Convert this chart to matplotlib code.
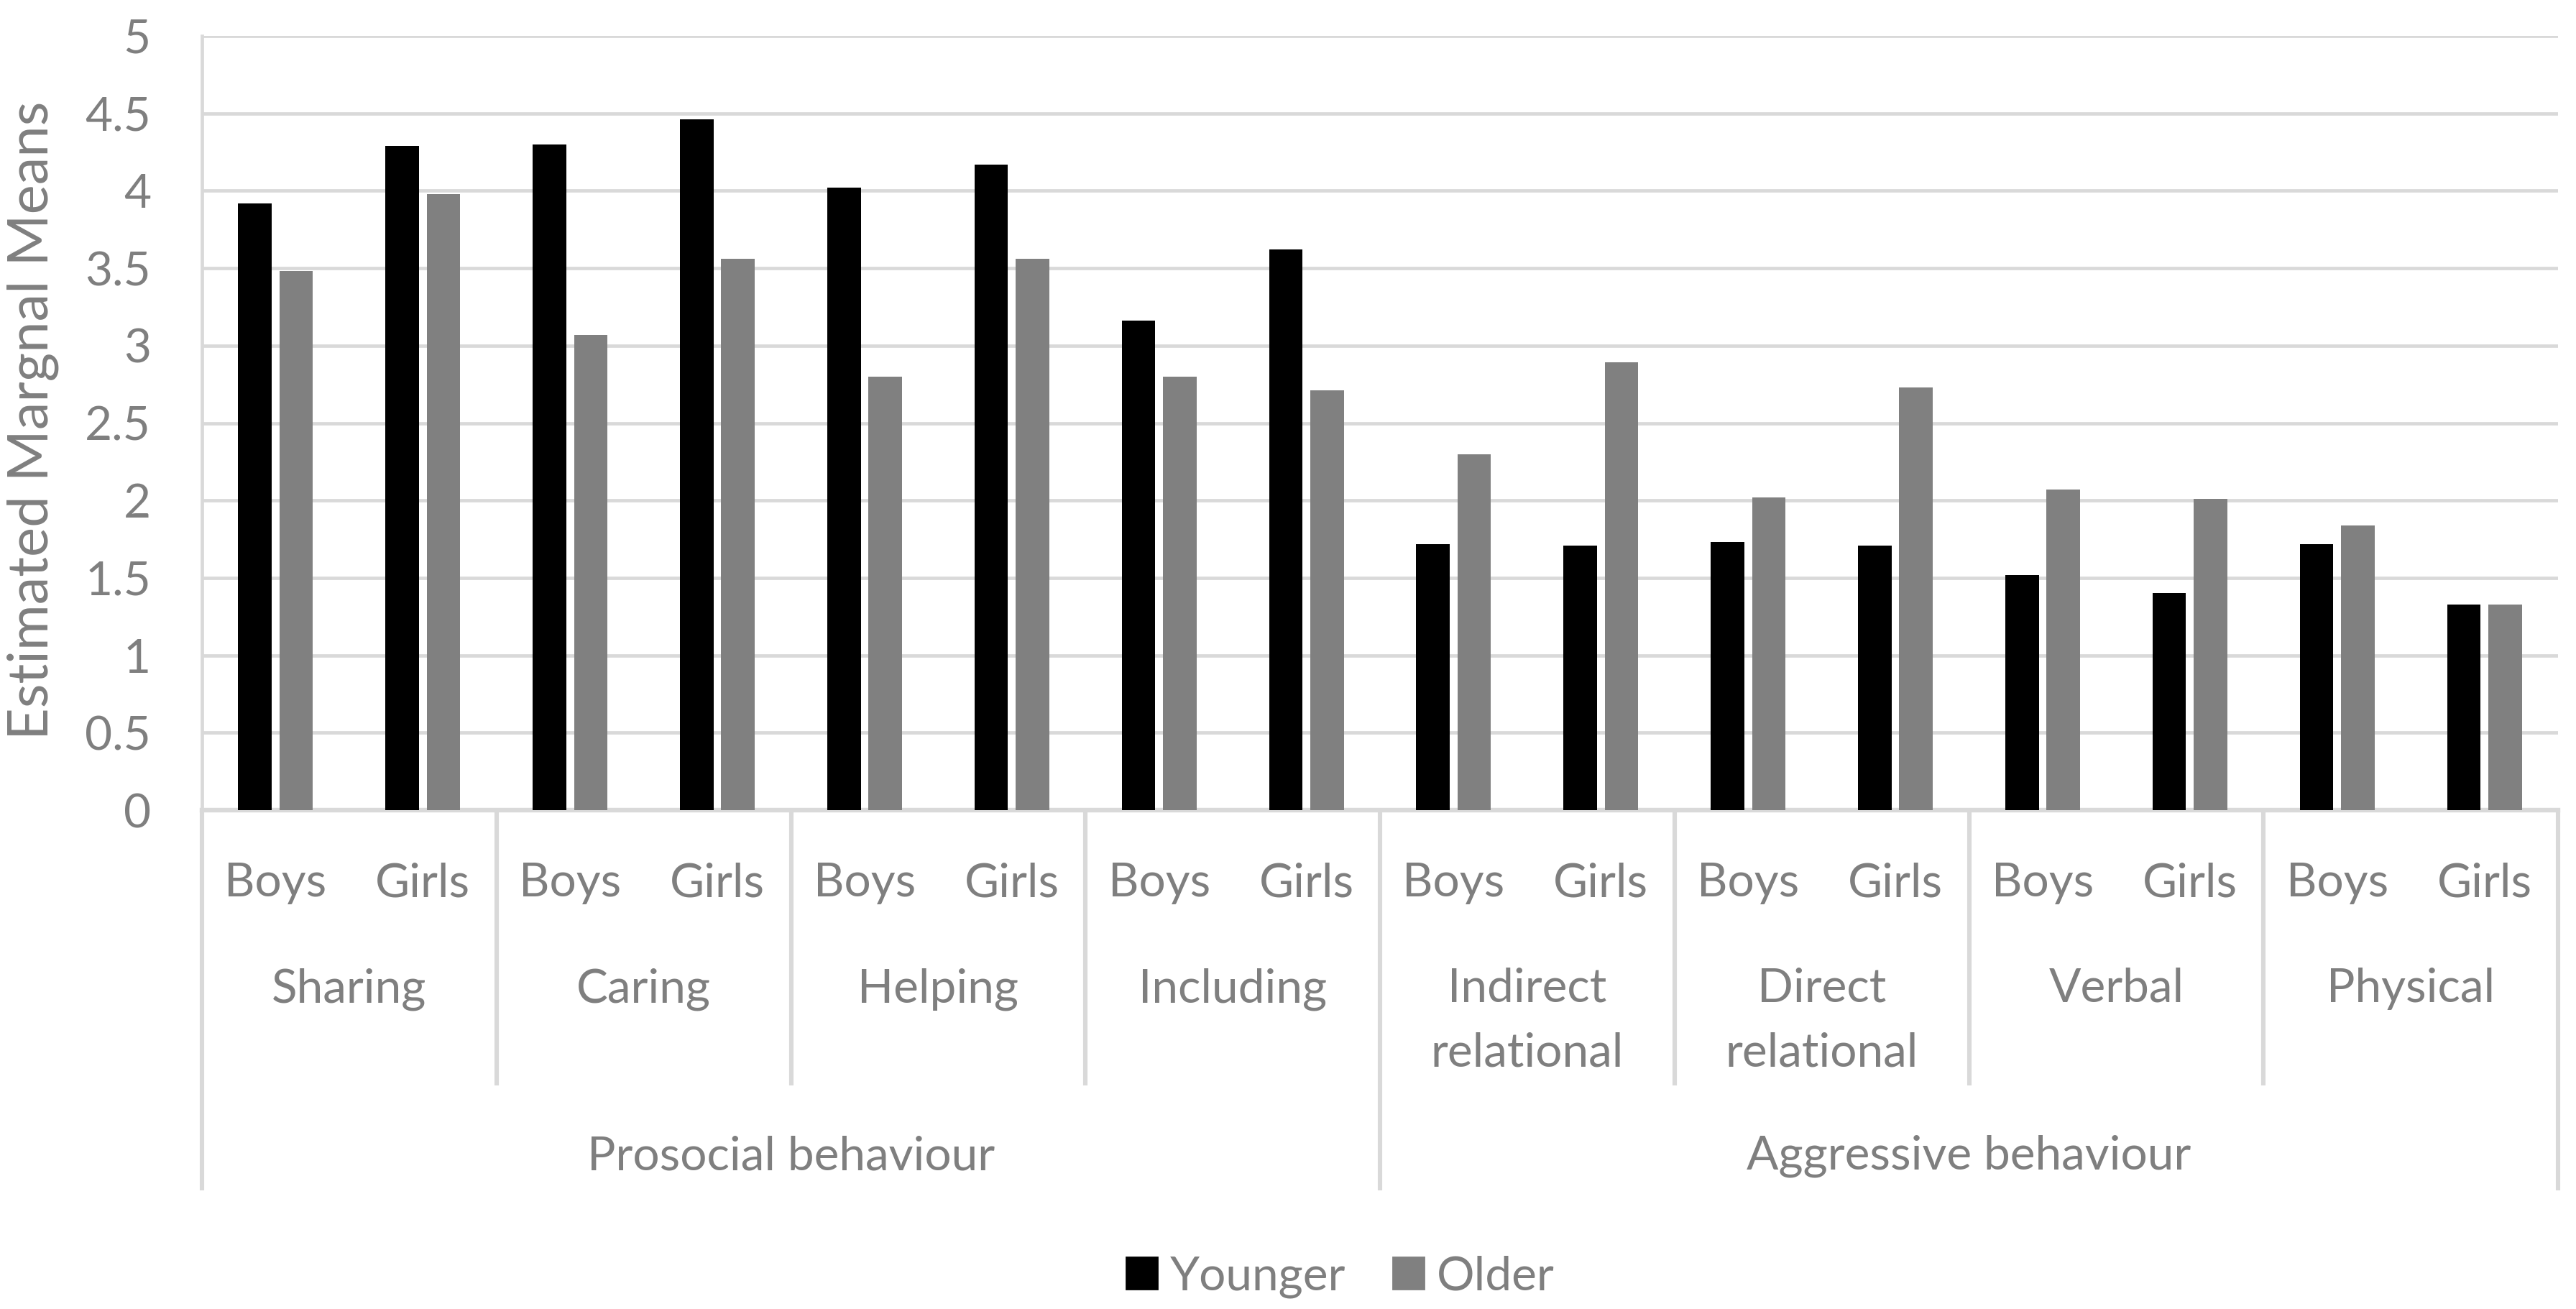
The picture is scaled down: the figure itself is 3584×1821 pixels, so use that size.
import numpy as np
import matplotlib
matplotlib.use("Agg")
import matplotlib.pyplot as plt
from matplotlib.transforms import blended_transform_factory
from matplotlib.patches import Patch

# chart data
groups = ["Prosocial behaviour", "Aggressive behaviour"]
categories = ["Sharing", "Caring", "Helping", "Including",
              "Indirect\nrelational", "Direct\nrelational", "Verbal", "Physical"]
genders = ["Boys", "Girls"]
younger = [3.92, 4.29, 4.30, 4.46, 4.02, 4.17, 3.16, 3.62,
           1.72, 1.71, 1.73, 1.71, 1.52, 1.40, 1.72, 1.33]
older = [3.48, 3.98, 3.07, 3.56, 2.80, 3.56, 2.80, 2.71,
         2.30, 2.89, 2.02, 2.73, 2.07, 2.01, 1.84, 1.33]
yticks = np.arange(0, 5.01, 0.5)

W, H, DPI = 3584, 1821, 200
TXT = "#7F7F7F"
GRID = "#D9D9D9"
FS = 23.7

plt.rcParams['font.family'] = ['Lato', 'DejaVu Sans']

fig = plt.figure(figsize=(W / DPI, H / DPI), dpi=DPI)
ax = fig.add_axes([281 / W, 1 - 1127 / H, (3559 - 281) / W, (1127 - 50) / H])


def fy(py):
    # figure pixel row -> figure fraction
    return 1 - py / H


n = len(younger)
x = np.arange(n) + 0.5
bw = 0.228
ax.bar(x - 0.14, younger, bw, color="#000000", zorder=3, label="Younger")
ax.bar(x + 0.14, older, bw, color="#808080", zorder=3, label="Older")

ax.set_xlim(0, n)
ax.set_ylim(0, 5)
ax.set_yticks(yticks)
ax.set_yticklabels([f"{v:g}" for v in yticks])
ax.tick_params(axis='y', length=0, pad=25.6, labelsize=FS, labelcolor=TXT)
ax.tick_params(axis='x', length=0, labelbottom=False)
ax.set_xticks([])
ax.yaxis.grid(True, color=GRID, linewidth=1.7)
ax.set_axisbelow(True)
for s in ["top", "right"]:
    ax.spines[s].set_visible(False)
ax.spines["left"].set_color(GRID)
ax.spines["left"].set_linewidth(1.7)
ax.spines["bottom"].set_color(GRID)
ax.spines["bottom"].set_linewidth(2.3)

fig.text(46 / W, fy(585), "Estimated Margnal Means", rotation=90,
         ha='center', va='center', fontsize=28, color=TXT)

tr = blended_transform_factory(ax.transData, fig.transFigure)

# gender labels
for i in range(n):
    ax.text(x[i], fy(1247), genders[i % 2], transform=tr, ha='center',
            va='baseline', fontsize=FS, color=TXT, clip_on=False)

# category labels and separators
for j, cat in enumerate(categories):
    cx = 2 * j + 1
    for k, line in enumerate(cat.split("\n")):
        ax.text(cx, fy(1394 + 90 * k), line, transform=tr, ha='center',
                va='baseline', fontsize=FS, color=TXT, clip_on=False)
for j in range(len(categories) + 1):
    bottom = 1656 if j % 4 == 0 else 1510
    ax.plot([2 * j, 2 * j], [fy(1129), fy(bottom)], transform=tr,
            color=GRID, linewidth=2.2, clip_on=False, solid_capstyle='butt')

# group labels
per = len(categories) // len(groups)
for g, name in enumerate(groups):
    gx = (g * per + per / 2) * 2
    ax.text(gx, fy(1627), name, transform=tr, ha='center', va='baseline',
            fontsize=FS, color=TXT, clip_on=False)

handles = [Patch(color="#000000", label="Younger"),
           Patch(color="#808080", label="Older")]
leg = fig.legend(handles=handles, loc='center', bbox_to_anchor=(1865 / W, fy(1776)),
                 ncol=2, frameon=False, fontsize=FS, handlelength=0.65,
                 handleheight=0.65, handletextpad=0.27, columnspacing=1.0,
                 borderpad=0, borderaxespad=0)
for t in leg.get_texts():
    t.set_color(TXT)

fig.savefig("out.png", dpi=DPI, facecolor="white")
